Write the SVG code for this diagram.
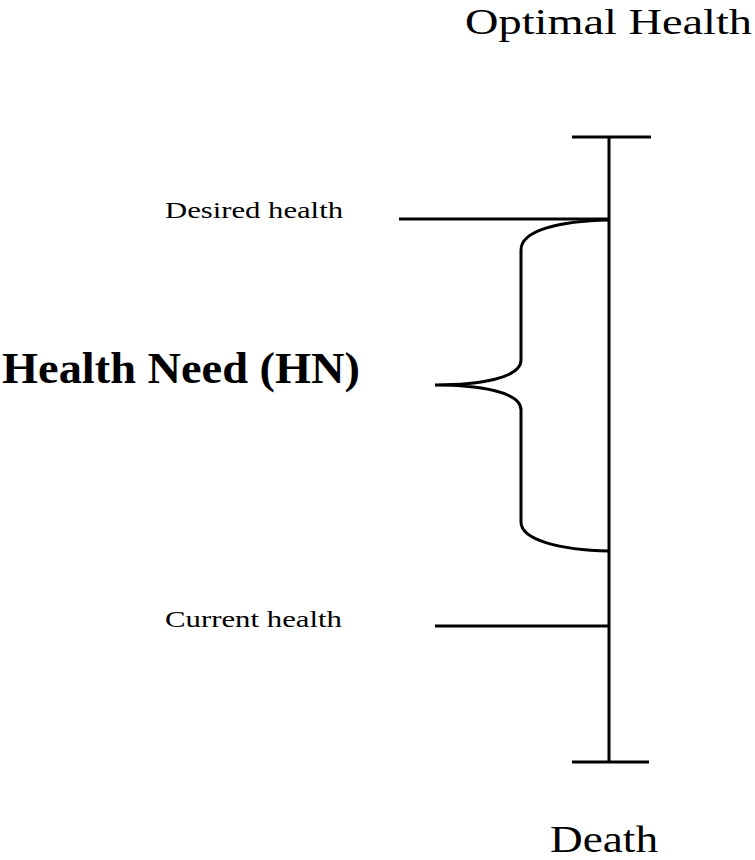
<svg xmlns="http://www.w3.org/2000/svg" width="755" height="860" viewBox="0 0 755 860">
<style>
.ln{stroke:#000;stroke-width:3;fill:none}
text{font-family:'Liberation Serif','Times New Roman',Times,serif;fill:#000}
</style>
<rect width="755" height="860" fill="#fff"/>
<g id="connectors">
<line class="ln" x1="609" y1="137" x2="609" y2="763"/>
<line class="ln" x1="572" y1="137" x2="651" y2="137"/>
<line class="ln" x1="572" y1="762" x2="649" y2="762"/>
<line class="ln" x1="399" y1="219" x2="609" y2="219"/>
<line class="ln" x1="435" y1="626" x2="609" y2="626"/>
<path class="ln" d="M609,220 C560,221 521,230 521,250 L521,360 C521,378 480,385 435,385 C480,385 521,392 521,410 L521,522 C521,540 560,550 609,551"/>
</g>
<g id="optimal"><text x="465" y="34" font-size="36" textLength="287" lengthAdjust="spacingAndGlyphs">Optimal Health</text></g>
<g id="desired"><text x="165" y="218" font-size="24" textLength="178" lengthAdjust="spacingAndGlyphs">Desired health</text></g>
<g id="need"><text x="2" y="383" font-size="45" font-weight="bold" textLength="358" lengthAdjust="spacingAndGlyphs">Health Need (HN)</text></g>
<g id="current"><text x="165" y="627" font-size="24" textLength="177" lengthAdjust="spacingAndGlyphs">Current health</text></g>
<g id="death"><text x="550" y="852" font-size="38" textLength="108" lengthAdjust="spacingAndGlyphs">Death</text></g>
</svg>
